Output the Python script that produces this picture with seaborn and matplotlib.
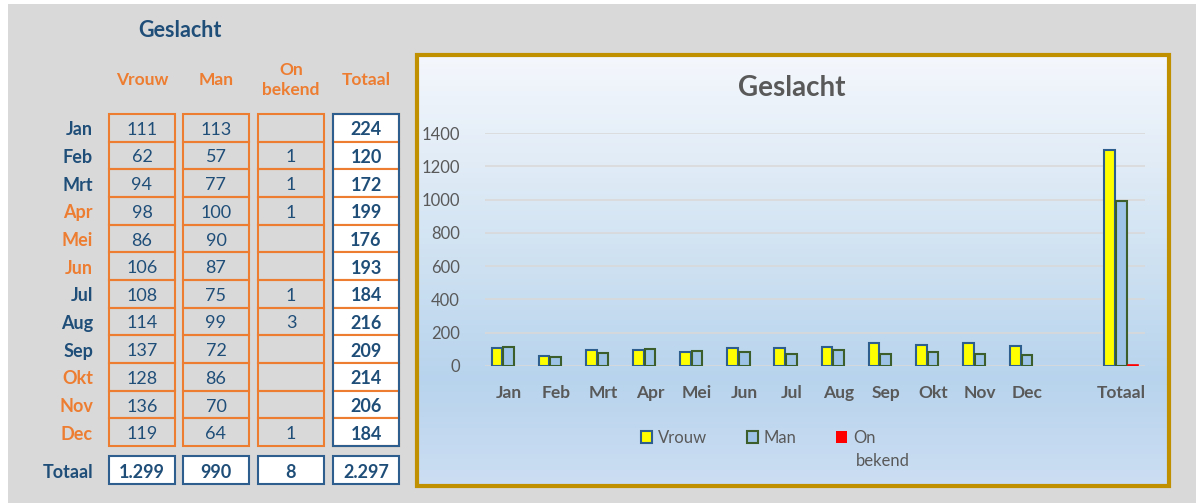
import numpy as np
import pandas as pd
import matplotlib.pyplot as plt
import seaborn as sns
from matplotlib.patches import Rectangle, Patch

# Data
maanden = ['Jan', 'Feb', 'Mrt', 'Apr', 'Mei', 'Jun', 'Jul', 'Aug', 'Sep', 'Okt', 'Nov', 'Dec']
vrouw = [111, 62, 94, 98, 86, 106, 108, 114, 137, 128, 136, 119]
man = [113, 57, 77, 100, 90, 87, 75, 99, 72, 86, 70, 64]
onbekend = [None, 1, 1, 1, None, None, 1, 3, None, None, None, 1]
totaal_rij = [224, 120, 172, 199, 176, 193, 184, 216, 209, 214, 206, 184]
totaal_kolom = ['1.299', '990', '8', '2.297']
totaal_vrouw, totaal_man, totaal_onbekend = 1299, 990, 8
groepen = ['Vrouw', 'Man', 'On bekend']
yticks = [0, 200, 400, 600, 800, 1000, 1200, 1400]

BLAUW = '#1F4E79'
ORANJE = '#ED7D31'
GRIJS = '#595959'
CORES = ['#FFFF00', '#9DC3E6', '#FF0000']
RANDEN = ['#2E5E8E', '#3B5E2B', '#FF0000']

sns.set_style('white')
plt.rcParams['font.family'] = ['Lato', 'DejaVu Sans']

fig = plt.figure(figsize=(11.96, 5.03), dpi=100, facecolor='white')

# achtergrond-as in pixelcoordinaten (tabel + kaderachtergrond)
bg = fig.add_axes([0, 0, 1, 1], zorder=0)
bg.set_xlim(0, 1196)
bg.set_ylim(503, 0)
bg.axis('off')
bg.add_patch(Rectangle((8, 4), 1188, 499, facecolor='#D9D9D9', edgecolor='none'))

# verloop in het grafiekkader
kleurpunten = np.array([[0.96, 0.97, 0.99], [0.82, 0.89, 0.95], [0.72, 0.83, 0.93], [0.80, 0.87, 0.95]])
pos = np.array([0.0, 0.45, 0.75, 1.0])
t = np.linspace(0, 1, 200)
grad = np.stack([np.interp(t, pos, kleurpunten[:, i]) for i in range(3)], axis=1)[:, None, :]
bg.imshow(grad, extent=(415, 1170, 487, 53), aspect='auto', zorder=1)
bg.add_patch(Rectangle((416.5, 54.5), 752, 431, facecolor='none', edgecolor='#C09000', lw=3, zorder=2))

# ---- Tabel ----
kolom_x = [109, 183, 258, 333]
kolom_b = 66
top = 114
rh = (446 - 114) / 12
dy = 2  # tekst iets lager, zoals in Excel

bg.text(180, 30, 'Geslacht', color=BLAUW, fontsize=15.5, fontweight='bold', ha='center', va='center')
for xk, kop in zip(kolom_x, ['Vrouw', 'Man', 'On\nbekend', 'Totaal']):
    bg.text(xk + kolom_b / 2, 80, kop, color=ORANJE, fontsize=12.5, fontweight='bold', ha='center', va='center',
            linespacing=1.25)

oranje_maanden = ['Apr', 'Mei', 'Jun', 'Okt', 'Nov', 'Dec']
for i, m in enumerate(maanden):
    y0 = top + i * rh
    yc = y0 + rh / 2 + dy
    bg.text(93, yc, m, color=ORANJE if m in oranje_maanden else BLAUW, fontsize=13, fontweight='bold',
            ha='right', va='center')
    waarden = [vrouw[i], man[i], onbekend[i]]
    for xk, w in zip(kolom_x[:3], waarden):
        bg.add_patch(Rectangle((xk, y0), kolom_b, rh, facecolor='none', edgecolor=ORANJE, lw=1.5, zorder=3))
        if w is not None:
            bg.text(xk + kolom_b / 2, yc, str(w), color=BLAUW, fontsize=13, ha='center', va='center')
    bg.add_patch(Rectangle((kolom_x[3], y0), kolom_b, rh, facecolor='white', edgecolor=ORANJE, lw=1.5, zorder=3))
    bg.text(kolom_x[3] + kolom_b / 2, yc, str(totaal_rij[i]), color=BLAUW, fontsize=13, fontweight='bold',
            ha='center', va='center', zorder=4)
bg.add_patch(Rectangle((kolom_x[3], top), kolom_b, 12 * rh, facecolor='none', edgecolor='#2E5E8E', lw=1.5, zorder=5))

bg.text(93, 470 + dy, 'Totaal', color=BLAUW, fontsize=13, fontweight='bold', ha='right', va='center')
for xk, w in zip(kolom_x, totaal_kolom):
    bg.add_patch(Rectangle((xk, 456), kolom_b, 28, facecolor='white', edgecolor='#2E5E8E', lw=1.5, zorder=3))
    bg.text(xk + kolom_b / 2, 470 + dy, w, color=BLAUW, fontsize=13, fontweight='bold', ha='center',
            va='center', zorder=4)

# ---- Grafiek ----
categorieen = maanden + [' ', 'Totaal']
rows = []
for i, m in enumerate(maanden):
    rows.append((m, 'Vrouw', vrouw[i]))
    rows.append((m, 'Man', man[i]))
    rows.append((m, 'On bekend', onbekend[i] if onbekend[i] is not None else np.nan))
rows += [('Totaal', 'Vrouw', totaal_vrouw), ('Totaal', 'Man', totaal_man), ('Totaal', 'On bekend', totaal_onbekend)]
df = pd.DataFrame(rows, columns=['Maand', 'Groep', 'Aantal'])

W, H = 1196, 503
ax = fig.add_axes([485 / W, (503 - 366) / H, 660 / W, 233 / H], zorder=2)
ax.set_facecolor('none')
sns.barplot(data=df, x='Maand', y='Aantal', hue='Groep', order=categorieen, hue_order=groepen,
            palette=CORES, saturation=1, width=0.74, gap=0.08, ax=ax, legend=False, errorbar=None)
for cont, rand, lw in zip(ax.containers, RANDEN, [1.5, 1.5, 0]):
    for bar in cont:
        bar.set_edgecolor(rand)
        bar.set_linewidth(lw)
        if lw == 0 and bar.get_height() > 5:
            bar.set_linewidth(1.2)

ax.set_ylim(0, 1400)
ax.set_xlim(-0.5, 13.5)
ax.set_yticks(yticks)
ax.grid(axis='y', color='#D9D9D9', lw=1.2)
ax.set_axisbelow(True)
for s in ax.spines.values():
    s.set_visible(False)
ax.tick_params(axis='y', length=0, pad=18, labelsize=12, labelcolor=GRIJS)
ax.tick_params(axis='x', length=0, pad=14, labelsize=12.5, labelcolor=GRIJS)
for lab in ax.get_xticklabels():
    lab.set_fontweight('bold')
ax.set_xlabel('')
ax.set_ylabel('')

fig.text(792 / W, 1 - 88 / H, 'Geslacht', color=GRIJS, fontsize=20, fontweight='bold', ha='center', va='center',
         zorder=5)

handles = [Patch(facecolor=c, edgecolor=e, lw=1.5 if c != '#FF0000' else 0) for c, e in zip(CORES, RANDEN)]
fig.legend(handles, ['Vrouw', 'Man', 'On'], loc='center left', bbox_to_anchor=(641 / W, 1 - 438 / H), ncol=3,
           frameon=False, fontsize=12, labelcolor=GRIJS, handlelength=0.65, handleheight=0.7,
           handletextpad=0.35, columnspacing=2.4, borderpad=0, borderaxespad=0)
fig.text(856 / W, 1 - 461 / H, 'bekend', color=GRIJS, fontsize=12, ha='left', va='center', zorder=5)

fig.savefig('out.png', dpi=100, facecolor=fig.get_facecolor())
